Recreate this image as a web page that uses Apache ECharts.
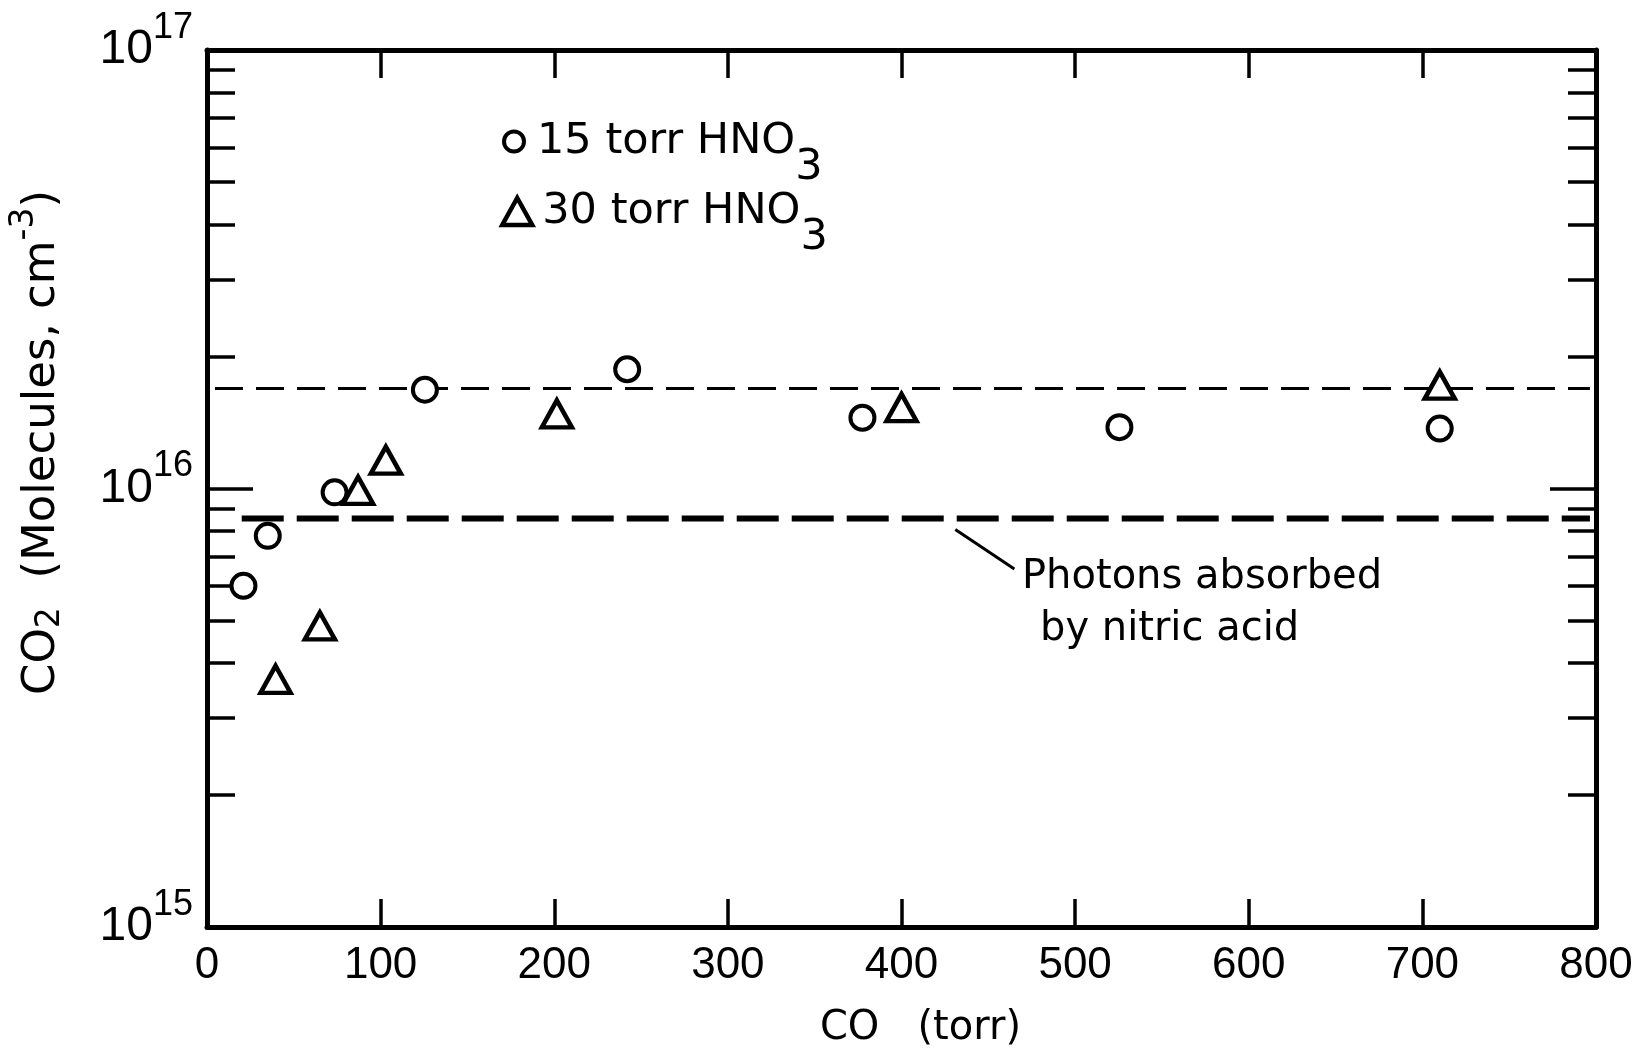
<!DOCTYPE html>
<html>
<head>
<meta charset="utf-8">
<script src="https://cdn.jsdelivr.net/npm/echarts@6/dist/echarts.min.js"></script>
<style>
  html, body { margin: 0; padding: 0; background: #fff; }
  #chart { width: 1644px; height: 1054px; }
</style>
</head>
<body>
<div id="chart"></div>
<script>
// CO pressure (torr) and CO2 produced (molecules cm^-3)
var co15 = [21, 35, 73.5, 125.5, 242, 377.5, 525.5, 710];
var co2At15 = [6.0e15, 7.8e15, 9.8e15, 1.68e16, 1.87e16, 1.45e16, 1.38e16, 1.37e16];
var co30 = [39.5, 65, 87, 103, 201.5, 400, 710];
var co2At30 = [3.67e15, 4.86e15, 9.9e15, 1.16e16, 1.48e16, 1.53e16, 1.72e16];

// reference lines
var upperLineX = [4.6, 796.5];
var upperLineY = [1.69e16, 1.69e16];
var photonLineX = [20, 796.5];
var photonLineY = [8.54e15, 8.54e15];
var leaderX = [431, 465];
var leaderY = [8.06e15, 6.55e15];

var xTicks = [0, 100, 200, 300, 400, 500, 600, 700, 800];
var yMajor = [1e15, 1e16, 1e17];
var yMinor = [2e15, 3e15, 4e15, 5e15, 6e15, 7e15, 8e15, 9e15,
              2e16, 3e16, 4e16, 5e16, 6e16, 7e16, 8e16, 9e16];

function pairs(xs, ys) {
  var out = [];
  for (var i = 0; i < xs.length; i++) out.push([xs[i], ys[i]]);
  return out;
}

var black = '#000';
var circleStyle = { color: '#fff', borderColor: black, borderWidth: 4, opacity: 1 };
var triStyle = { color: '#fff', borderColor: black, borderWidth: 4.5, opacity: 1 };

function yAxis(pos, ticks, len, main) {
  return {
    type: 'log', logBase: 10, min: 1e15, max: 1e17, position: pos,
    axisLine: { show: main, lineStyle: { color: black, width: 5 } },
    axisTick: { show: true, inside: true, length: len, customValues: ticks,
      lineStyle: { color: black, width: 3.5 } },
    axisLabel: (main && pos === 'left') ? {
      show: true, customValues: yMajor, margin: 14, color: black,
      formatter: function (v) { return '{b|10}{p|' + Math.round(Math.log10(v)) + '}'; },
      rich: {
        b: { fontFamily: 'Liberation Sans', fontSize: 48, color: black },
        p: { fontFamily: 'Liberation Sans', fontSize: 36, color: black, padding: [0, 0, 44, 0] }
      }
    } : { show: false },
    splitLine: { show: false }
  };
}

function legendText(pad) {
  return { fontFamily: 'DejaVu Sans', fontSize: 43, color: black, padding: [0, 0, 0, pad],
    rich: { sub: { fontFamily: 'DejaVu Sans', fontSize: 43, color: black, padding: [52, 0, 0, 0] } } };
}

function subName(name) { return name.replace('HNO3', 'HNO{sub|3}'); }

var chart = echarts.init(document.getElementById('chart'));
chart.setOption({
  backgroundColor: '#fff',
  animation: false,
  grid: { left: 202, right: 48, top: 50, bottom: 117 },
  legend: [{
    data: ['15 torr HNO3'], left: 502, top: 120, padding: 0,
    itemWidth: 20, itemHeight: 20,
    itemStyle: circleStyle,
    formatter: subName,
    textStyle: legendText(8)
  }, {
    data: ['30 torr HNO3'], left: 500, top: 190, padding: 0,
    itemWidth: 30, itemHeight: 27,
    itemStyle: triStyle,
    formatter: subName,
    textStyle: legendText(5)
  }],
  xAxis: [{
    type: 'value', min: 0, max: 800, interval: 100, position: 'bottom',
    name: 'CO   (torr)', nameLocation: 'middle', nameGap: 82,
    nameTextStyle: { fontFamily: 'DejaVu Sans', fontSize: 40, color: black, padding: [0, 0, 0, 38] },
    axisLine: { lineStyle: { color: black, width: 5 } },
    axisTick: { inside: true, length: 28, customValues: xTicks, lineStyle: { color: black, width: 3.5 } },
    axisLabel: { fontFamily: 'Liberation Sans', fontSize: 44, color: black, margin: 17 },
    splitLine: { show: false }
  }, {
    type: 'value', min: 0, max: 800, interval: 100, position: 'top',
    axisLine: { lineStyle: { color: black, width: 5 } },
    axisTick: { inside: true, length: 28, customValues: xTicks, lineStyle: { color: black, width: 3.5 } },
    axisLabel: { show: false },
    splitLine: { show: false }
  }],
  yAxis: [
    Object.assign(yAxis('left', yMajor, 46, true), {
      name: 'CO{sub|2}  (Molecules, cm{sup|-3})', nameLocation: 'middle', nameGap: 130,
      nameTextStyle: {
        fontFamily: 'DejaVu Sans', fontSize: 45, color: black, padding: [0, 0, 0, 92],
        rich: {
          sub: { fontFamily: 'DejaVu Sans', fontSize: 33, color: black, padding: [16, 0, 0, 0] },
          sup: { fontFamily: 'DejaVu Sans', fontSize: 33, color: black, padding: [0, 0, 36, 0] }
        }
      }
    }),
    yAxis('left', yMinor, 28, false),
    yAxis('right', yMajor, 46, true),
    yAxis('right', yMinor, 28, false)
  ],
  graphic: [
    { type: 'text', x: 1022, y: 578, style: { text: 'Photons absorbed', fill: black,
      font: '40px "DejaVu Sans"', verticalAlign: 'middle' } },
    { type: 'text', x: 1040, y: 630, style: { text: 'by nitric acid', fill: black,
      font: '40px "DejaVu Sans"', verticalAlign: 'middle' } }
  ],
  series: [{
    type: 'line', silent: true, symbol: 'none', z: 1,
    data: pairs(upperLineX, upperLineY),
    lineStyle: { color: black, width: 3, type: [28, 13] }
  }, {
    type: 'line', silent: true, symbol: 'none', z: 1,
    data: pairs(photonLineX, photonLineY),
    lineStyle: { color: black, width: 6, type: [42, 13] }
  }, {
    type: 'line', silent: true, symbol: 'none', z: 1,
    data: pairs(leaderX, leaderY),
    lineStyle: { color: black, width: 3 }
  }, {
    name: '15 torr HNO3', type: 'scatter', symbol: 'circle', symbolSize: 24, z: 3,
    data: pairs(co15, co2At15),
    itemStyle: circleStyle
  }, {
    name: '30 torr HNO3', type: 'scatter', symbol: 'triangle', symbolSize: [30, 27], z: 3,
    data: pairs(co30, co2At30),
    itemStyle: triStyle
  }]
});
</script>
</body>
</html>
